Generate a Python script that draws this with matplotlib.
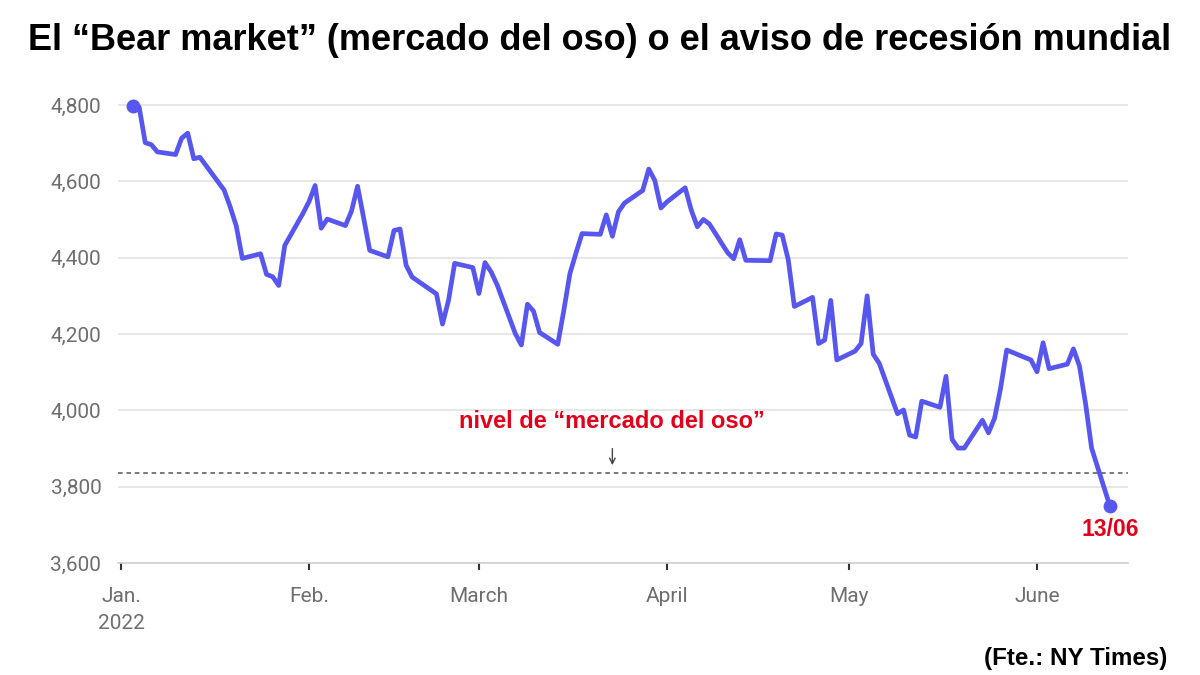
import numpy as np
import pandas as pd
import matplotlib
matplotlib.use('Agg')
import matplotlib.pyplot as plt
import matplotlib.dates as mdates

# S&P 500 closes, Jan 3 - Jun 13 2022
dates = ['2022-01-03', '2022-01-04', '2022-01-05', '2022-01-06', '2022-01-07',
         '2022-01-10', '2022-01-11', '2022-01-12', '2022-01-13', '2022-01-14',
         '2022-01-18', '2022-01-19', '2022-01-20', '2022-01-21', '2022-01-24',
         '2022-01-25', '2022-01-26', '2022-01-27', '2022-01-28', '2022-01-31',
         '2022-02-01', '2022-02-02', '2022-02-03', '2022-02-04', '2022-02-07',
         '2022-02-08', '2022-02-09', '2022-02-10', '2022-02-11', '2022-02-14',
         '2022-02-15', '2022-02-16', '2022-02-17', '2022-02-18', '2022-02-22',
         '2022-02-23', '2022-02-24', '2022-02-25', '2022-02-28', '2022-03-01',
         '2022-03-02', '2022-03-03', '2022-03-04', '2022-03-07', '2022-03-08',
         '2022-03-09', '2022-03-10', '2022-03-11', '2022-03-14', '2022-03-15',
         '2022-03-16', '2022-03-17', '2022-03-18', '2022-03-21', '2022-03-22',
         '2022-03-23', '2022-03-24', '2022-03-25', '2022-03-28', '2022-03-29',
         '2022-03-30', '2022-03-31', '2022-04-01', '2022-04-04', '2022-04-05',
         '2022-04-06', '2022-04-07', '2022-04-08', '2022-04-11', '2022-04-12',
         '2022-04-13', '2022-04-14', '2022-04-18', '2022-04-19', '2022-04-20',
         '2022-04-21', '2022-04-22', '2022-04-25', '2022-04-26', '2022-04-27',
         '2022-04-28', '2022-04-29', '2022-05-02', '2022-05-03', '2022-05-04',
         '2022-05-05', '2022-05-06', '2022-05-09', '2022-05-10', '2022-05-11',
         '2022-05-12', '2022-05-13', '2022-05-16', '2022-05-17', '2022-05-18',
         '2022-05-19', '2022-05-20', '2022-05-23', '2022-05-24', '2022-05-25',
         '2022-05-26', '2022-05-27', '2022-05-31', '2022-06-01', '2022-06-02',
         '2022-06-03', '2022-06-06', '2022-06-07', '2022-06-08', '2022-06-09',
         '2022-06-10', '2022-06-13']

closes = [4797, 4794, 4701, 4696, 4677,
          4670, 4713, 4726, 4659, 4663,
          4577, 4533, 4483, 4398, 4410,
          4356, 4350, 4327, 4432, 4516,
          4547, 4589, 4477, 4501, 4484,
          4522, 4587, 4504, 4419, 4402,
          4471, 4475, 4380, 4349, 4305,
          4226, 4289, 4385, 4374, 4306,
          4387, 4363, 4329, 4201, 4171,
          4278, 4260, 4204, 4173, 4262,
          4358, 4412, 4463, 4461, 4512,
          4456, 4520, 4543, 4576, 4632,
          4602, 4530, 4546, 4583, 4525,
          4481, 4500, 4488, 4413, 4397,
          4447, 4393, 4392, 4462, 4459,
          4394, 4272, 4296, 4175, 4184,
          4288, 4132, 4155, 4175, 4300,
          4147, 4123, 3991, 4001, 3935,
          3930, 4024, 4008, 4089, 3924,
          3901, 3901, 3974, 3941, 3979,
          4058, 4158, 4132, 4101, 4177,
          4109, 4121, 4161, 4116, 4018,
          3901, 3750]

bear_level = 3837
month_ticks = ['2022-01-01', '2022-02-01', '2022-03-01', '2022-04-01', '2022-05-01', '2022-06-01']
month_labels = ['Jan.\n2022', 'Feb.', 'March', 'April', 'May', 'June']
y_ticks = [3600, 3800, 4000, 4200, 4400, 4600, 4800]

x = pd.to_datetime(dates)
line_color = '#5757f0'
red = '#e3001b'
gray = '#6e6e6e'

fig = plt.figure(figsize=(12, 6.75), dpi=100)
ax = fig.add_axes([0.0983, 0.1659, 0.8417, 0.6956])

ax.plot(x, closes, color=line_color, linewidth=3.4, solid_joinstyle='round', zorder=3)
ax.plot([x[0], x[-1]], [closes[0], closes[-1]], 'o', color=line_color, markersize=9, zorder=4)
ax.axhline(bear_level, color='#555555', linestyle=(0, (3, 2.5)), linewidth=1.1, zorder=2)

ax.set_xlim(pd.Timestamp('2021-12-31 12:00'), pd.Timestamp('2022-06-16'))
ax.set_ylim(3600, 4830)
ax.set_yticks(y_ticks)
ax.set_yticklabels([f'{v:,}' for v in y_ticks], fontsize=15, color=gray, family='Roboto')
ax.set_xticks(pd.to_datetime(month_ticks))
ax.set_xticklabels(month_labels, fontsize=15, color=gray, family='Roboto', linespacing=1.55)
ax.tick_params(axis='y', length=0, pad=12)
ax.tick_params(axis='x', length=5, width=1.5, color='#333333', pad=12, direction='out')
ax.grid(axis='y', color='#e3e3e3', linewidth=1.2, zorder=0)
for s in ['top', 'right', 'left']:
    ax.spines[s].set_visible(False)
ax.spines['bottom'].set_color('#d0d0d0')
ax.spines['bottom'].set_linewidth(1.2)

# annotations
ax.annotate('', xy=(pd.Timestamp('2022-03-23'), bear_level + 12),
            xytext=(pd.Timestamp('2022-03-23'), bear_level + 70),
            arrowprops=dict(arrowstyle='->', color='#444444', lw=1.0))
ax.text(pd.Timestamp('2022-03-23'), bear_level + 135, 'nivel de \u201cmercado del oso\u201d',
        ha='center', va='center', fontsize=17, fontweight='bold', color=red,
        family='Liberation Sans')
ax.annotate('13/06', xy=(x[-1], closes[-1]), xytext=(0, -17), textcoords='offset points',
            ha='center', va='center', fontsize=16.5, fontweight='bold', color=red,
            family='Liberation Sans')

fig.text(0.5, 0.94, 'El \u201cBear market\u201d (mercado del oso) o el aviso de recesi\u00f3n mundial',
         ha='center', va='center', fontsize=26, fontweight='bold', family='Liberation Sans')
fig.text(0.973, 0.025, '(Fte.: NY Times)', ha='right', va='center', fontsize=17.4,
         fontweight='bold', family='Liberation Sans')

fig.savefig('out.png', dpi=100)
